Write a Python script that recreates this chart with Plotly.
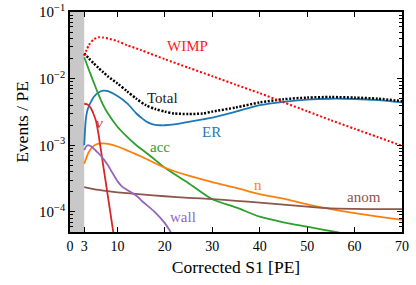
import numpy as np
import plotly.graph_objects as go

threshold = 3

x_wimp = [3, 4, 5, 6, 7, 8, 10, 12, 15, 20, 25, 30, 35, 40, 45, 50, 55, 60, 65, 70]
y_wimp = [0.0220, 0.032, 0.039, 0.0417, 0.0414, 0.040, 0.0366, 0.0319, 0.0268, 0.0196,
          0.0146, 0.0109, 0.0081, 0.00605, 0.00443, 0.00325, 0.00238, 0.00177, 0.00132, 0.00098]

x_total = [3, 4, 5, 6, 7, 8, 10, 12, 14, 16, 18, 20, 22, 25, 28, 30, 35, 40, 45, 50, 55, 60, 65, 70]
y_total = [0.0240, 0.0200, 0.0170, 0.0145, 0.0125, 0.0108, 0.0085, 0.0065, 0.0050, 0.0040,
           0.0035, 0.0032, 0.0030, 0.00295, 0.0030, 0.0032, 0.0037, 0.0044, 0.0049, 0.0052,
           0.0053, 0.0052, 0.0050, 0.0046]

x_er = [3, 3.3, 3.6, 4, 4.5, 5, 6, 7, 8, 10, 12, 14, 15, 16, 17, 18, 19, 20, 22, 25, 28, 30,
        35, 40, 45, 50, 55, 60, 65, 70]
y_er = [0.0010, 0.0023, 0.0032, 0.0039, 0.0046, 0.0053, 0.0062, 0.0066, 0.0065, 0.0055,
        0.0043, 0.0030, 0.0026, 0.0023, 0.00212, 0.00203, 0.0020, 0.0020, 0.00206, 0.00225,
        0.00245, 0.0026, 0.0032, 0.0040, 0.0045, 0.00485, 0.0050, 0.00495, 0.00475, 0.0044]

x_acc = [3, 4, 5, 6, 7, 8, 10, 12, 14, 16, 18, 20, 25, 30, 35, 40, 45, 50, 56, 60, 70]
y_acc = [0.021, 0.0135, 0.0088, 0.0058, 0.0040, 0.0030, 0.0019, 0.00135, 0.00100, 0.00078,
         0.00060, 0.00046, 0.00027, 0.000155, 0.000117, 0.000085, 0.000070, 0.000060,
         0.000050, 0.000044, 0.000032]

x_n = [3, 4, 5, 6, 7, 8, 10, 12, 15, 20, 25, 30, 35, 40, 45, 50, 55, 60, 65, 70]
y_n = [5.3e-4, 8.0e-4, 9.8e-4, 1.06e-3, 1.07e-3, 1.05e-3, 9.6e-4, 8.4e-4, 6.8e-4, 4.6e-4,
       3.5e-4, 2.8e-4, 2.3e-4, 1.85e-4, 1.58e-4, 1.30e-4, 1.10e-4, 9.6e-5, 8.5e-5, 7.6e-5]

x_anom = [3, 5, 8, 10, 15, 20, 25, 30, 35, 40, 45, 50, 55, 60, 65, 70]
y_anom = [2.35e-4, 2.2e-4, 2.05e-4, 1.97e-4, 1.83e-4, 1.72e-4, 1.63e-4, 1.56e-4, 1.47e-4,
          1.38e-4, 1.29e-4, 1.20e-4, 1.13e-4, 1.11e-4, 1.10e-4, 1.10e-4]

x_nu = [3, 3.5, 4, 4.5, 5, 5.5, 6, 7, 8, 9, 10]
y_nu = [4.2e-3, 4.15e-3, 3.95e-3, 3.5e-3, 2.9e-3, 2.3e-3, 1.48e-3, 5.0e-4, 1.7e-4, 5.7e-5, 1.9e-5]

x_wall = [3, 3.5, 4, 4.5, 5, 6, 7, 8, 9, 10, 11, 12, 14, 15, 16, 18, 20, 21, 22]
y_wall = [8.5e-4, 9.8e-4, 1.0e-3, 9.6e-4, 8.9e-4, 7.6e-4, 6.3e-4, 5.0e-4, 3.8e-4, 2.9e-4,
          2.4e-4, 2.15e-4, 1.75e-4, 1.5e-4, 1.3e-4, 9.8e-5, 6.8e-5, 5.3e-5, 4.0e-5]

x_ticks = [0, 3, 10, 20, 30, 40, 50, 60, 70]
y_ticks = [1e-4, 1e-3, 1e-2, 1e-1]
y_ticktext = ["10<sup>−4</sup>", "10<sup>−3</sup>", "10<sup>−2</sup>", "10<sup>−1</sup>"]

labels = [
    ("WIMP", 24.8, 0.0308, "#ff1a1a"),
    ("Total", 19.4, 0.00509, "#222222"),
    ("ER", 29.9, 0.00157, "#1f77b4"),
    ("acc", 18.9, 0.00093, "#2ca02c"),
    ("<i>ν</i>", 6.3, 0.00214, "#d62728"),
    ("n", 39.6, 2.5e-4, "#ff7f0e"),
    ("anom", 61.9, 1.7e-4, "#8c564b"),
    ("wall", 23.8, 8.3e-5, "#9467bd"),
]

SERIF = "Liberation Serif, Times New Roman, DejaVu Serif, serif"

fig = go.Figure()

solid = [
    (x_er, y_er, "#1f77b4"),
    (x_acc, y_acc, "#2ca02c"),
    (x_n, y_n, "#ff7f0e"),
    (x_anom, y_anom, "#8c564b"),
    (x_nu, y_nu, "#d62728"),
    (x_wall, y_wall, "#9467bd"),
]
for xs, ys, c in solid:
    fig.add_trace(go.Scatter(x=xs, y=ys, mode="lines",
                             line=dict(color=c, width=1.8, shape="spline", smoothing=0.7),
                             showlegend=False))

fig.add_trace(go.Scatter(x=x_total, y=y_total, mode="lines",
                         line=dict(color="black", width=2.5, dash="2px,1.6px", shape="spline", smoothing=0.7),
                         showlegend=False))
fig.add_trace(go.Scatter(x=x_wimp, y=y_wimp, mode="lines",
                         line=dict(color="#ff0000", width=2.0, dash="2px,2px", shape="spline", smoothing=0.7),
                         showlegend=False))

fig.add_shape(type="rect", xref="x", yref="paper", x0=0, x1=threshold, y0=0, y1=1,
              fillcolor="#c8c8c8", line=dict(width=0), layer="below")

for text, lx, ly, c in labels:
    fig.add_annotation(x=lx, y=np.log10(ly), text=text, showarrow=False,
                       font=dict(color=c, size=15, family=SERIF))

fig.update_layout(
    width=416, height=285,
    margin=dict(l=70, r=14, t=12, b=53, autoexpand=False),
    paper_bgcolor="white", plot_bgcolor="white",
    font=dict(family=SERIF, color="black", size=14),
)
fig.update_xaxes(range=[0, 70], tickvals=x_ticks, ticktext=[str(v) for v in x_ticks],
                 ticks="inside", ticklen=5, tickwidth=1.2, tickcolor="black",
                 showline=True, linecolor="black", linewidth=1.5, mirror="ticks",
                 showgrid=False, zeroline=False, automargin=False,
                 title=dict(text="Corrected S1 [PE]", font=dict(size=17.5, family=SERIF), standoff=8),
                 tickfont=dict(size=14, family=SERIF))
fig.update_yaxes(type="log", range=[np.log10(5e-5), -0.9995],
                 tickvals=y_ticks, ticktext=y_ticktext,
                 ticks="inside", ticklen=5, tickwidth=1.2, tickcolor="black",
                 minor=dict(ticks="inside", ticklen=3, tickcolor="black", showgrid=False,
                            tickvals=[m * 10.0 ** e for e in (-5, -4, -3, -2) for m in range(2, 10)
                                      if 5e-5 <= m * 10.0 ** e < 0.1]),
                 showline=True, linecolor="black", linewidth=1.5, mirror="ticks",
                 showgrid=False, zeroline=False, automargin=False,
                 title=dict(text="Events / PE", font=dict(size=17.5, family=SERIF), standoff=6),
                 tickfont=dict(size=15, family=SERIF))

fig.write_html("out.html", config={"displayModeBar": False},
               post_script="document.body.style.margin='0';")
